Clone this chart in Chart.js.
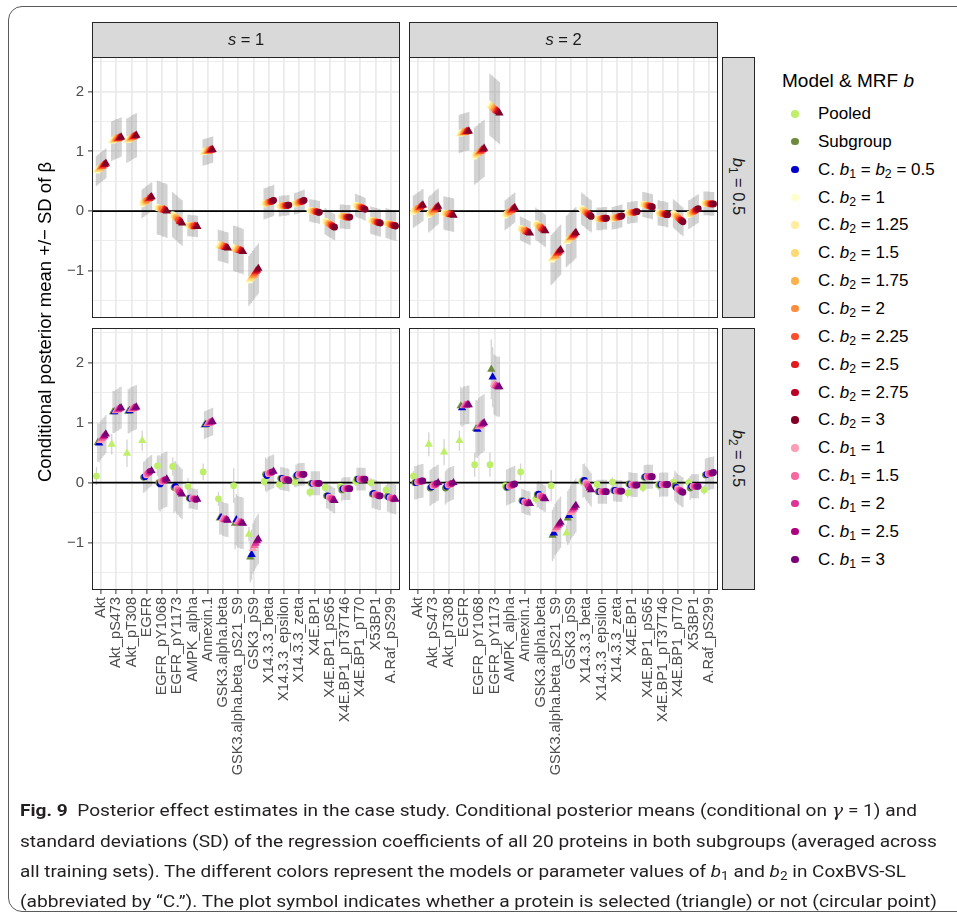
<!DOCTYPE html>
<html>
<head>
<meta charset="utf-8">
<script src="https://cdn.jsdelivr.net/npm/chart.js@4.4.1/dist/chart.umd.min.js"></script>
<style>
  body { margin:0; width:957px; height:918px; background:#fff; position:relative; overflow:hidden;
         font-family:'Liberation Sans', Arial, sans-serif; }
  canvas { position:absolute; }
  .frame { position:absolute; left:8px; top:6px; width:990px; height:906px; border:1px solid #5a5a5a;
           border-radius:14px; box-sizing:border-box; }
  .pborder { position:absolute; border:1.5px solid #262626; box-sizing:border-box; pointer-events:none; z-index:5; }
  .strip { position:absolute; background:#D9D9D9; border:1.5px solid #262626; box-sizing:border-box; z-index:5; }
  .striptext { position:absolute; color:#1a1a1a; font-size:16.5px; white-space:nowrap; text-align:center; z-index:6; }
  sub { font-size:0.72em; vertical-align:-0.28em; line-height:0; }
  .ytitle { position:absolute; width:500px; text-align:center; font-size:18.5px; color:#000; white-space:nowrap;
            transform:rotate(-90deg); transform-origin:center center; }
  .legtitle { position:absolute; left:782px; top:70px; font-size:19px; color:#000; white-space:nowrap; }
  .legitem { position:absolute; left:782px; height:20px; font-size:17px; color:#000; white-space:nowrap; }
  .legitem .dot { position:absolute; left:9px; top:6px; width:7.5px; height:7.5px; border-radius:50%; }
  .legitem .lab { position:absolute; left:36px; top:0; }
  .cap { position:absolute; left:20px; white-space:nowrap; font-family:Roboto,'Liberation Sans',sans-serif;
         font-size:17px; color:#231F20; transform-origin:left center; line-height:30px; }
  .cap b { font-weight:700; }
  .cap i.m { font-family:'DejaVu Serif','Liberation Serif',serif; }
</style>
</head>
<body>
<div class="frame"></div>

<canvas id="tl" width="380" height="293" style="left:36px;top:41px"></canvas>
<canvas id="tr" width="341" height="293" style="left:393px;top:41px"></canvas>
<canvas id="bl" width="380" height="494" style="left:36px;top:312px"></canvas>
<canvas id="br" width="341" height="494" style="left:393px;top:312px"></canvas>

<div class="pborder" style="left:92px;top:57px;width:308px;height:261px"></div>
<div class="pborder" style="left:409px;top:57px;width:309px;height:261px"></div>
<div class="pborder" style="left:92px;top:328px;width:308px;height:262px"></div>
<div class="pborder" style="left:409px;top:328px;width:309px;height:262px"></div>

<div class="strip" style="left:92px;top:22px;width:308px;height:36px"></div>
<div class="strip" style="left:409px;top:22px;width:309px;height:36px"></div>
<div class="striptext" style="left:92px;top:30px;width:308px"><i>s</i> = 1</div>
<div class="striptext" style="left:409px;top:30px;width:309px"><i>s</i> = 2</div>

<div class="strip" style="left:722px;top:57px;width:33px;height:261px"></div>
<div class="strip" style="left:722px;top:328px;width:33px;height:262px"></div>
<div class="striptext" style="left:688px;top:177px;width:100px;transform:rotate(90deg)"><i>b</i><sub>1</sub> = 0.5</div>
<div class="striptext" style="left:688px;top:449px;width:100px;transform:rotate(90deg)"><i>b</i><sub>2</sub> = 0.5</div>

<div class="ytitle" style="left:-205px;top:311px">Conditional posterior mean +/− SD of β</div>

<div class="legtitle">Model &amp; MRF <i>b</i></div>
<div id="legend"></div>

<div class="cap" id="cap1" style="top:795px"><b>Fig. 9</b>&nbsp; Posterior effect estimates in the case study. Conditional posterior means (conditional on <i class="m">γ</i> = 1) and</div>
<div class="cap" id="cap2" style="top:826px">standard deviations (SD) of the regression coefficients of all 20 proteins in both subgroups (averaged across</div>
<div class="cap" id="cap3" style="top:856px">all training sets). The different colors represent the models or parameter values of <i>b</i><sub>1</sub> and <i>b</i><sub>2</sub> in CoxBVS-SL</div>
<div class="cap" id="cap4" style="top:886px">(abbreviated by “C.”). The plot symbol indicates whether a protein is selected (triangle) or not (circular point)</div>

<script>
const proteins = ['Akt', 'Akt_pS473', 'Akt_pT308', 'EGFR', 'EGFR_pY1068', 'EGFR_pY1173', 'AMPK_alpha',
  'Annexin.1', 'GSK3.alpha.beta', 'GSK3.alpha.beta_pS21_S9', 'GSK3_pS9', 'X14.3.3_beta', 'X14.3.3_epsilon',
  'X14.3.3_zeta', 'X4E.BP1', 'X4E.BP1_pS65', 'X4E.BP1_pT37T46', 'X4E.BP1_pT70', 'X53BP1', 'A.Raf_pS299'];

const yTicks = [-1.5, -1, -0.5, 0, 0.5, 1, 1.5, 2, 2.5];

// --- row b1 = 0.5, subgroup s = 1 : CoxBVS-SL with b2 = 1 ... 3
const s1_b2_1   = [0.67,1.17,1.18,0.12,0.06,-0.06,-0.24,0.98,-0.57,-0.62,-1.17,0.12,0.08,0.12,0.01,-0.17,-0.09,0.10,-0.15,-0.20];
const s1_b2_125 = [0.69,1.18,1.19,0.14,0.05,-0.08,-0.24,0.99,-0.58,-0.63,-1.14,0.13,0.08,0.13,0.01,-0.18,-0.09,0.09,-0.16,-0.21];
const s1_b2_15  = [0.70,1.19,1.20,0.15,0.05,-0.10,-0.24,0.99,-0.58,-0.64,-1.12,0.13,0.09,0.13,0.00,-0.20,-0.09,0.08,-0.16,-0.21];
const s1_b2_175 = [0.72,1.20,1.21,0.17,0.04,-0.11,-0.25,1.00,-0.59,-0.64,-1.09,0.14,0.09,0.14,0.00,-0.21,-0.09,0.07,-0.17,-0.22];
const s1_b2_2   = [0.74,1.21,1.23,0.18,0.03,-0.13,-0.25,1.00,-0.59,-0.65,-1.07,0.15,0.09,0.15,0.00,-0.22,-0.10,0.07,-0.18,-0.23];
const s1_b2_225 = [0.75,1.21,1.24,0.20,0.02,-0.15,-0.25,1.01,-0.60,-0.66,-1.04,0.16,0.09,0.16,-0.01,-0.23,-0.10,0.06,-0.18,-0.23];
const s1_b2_25  = [0.77,1.22,1.25,0.21,0.02,-0.17,-0.25,1.02,-0.61,-0.66,-1.01,0.16,0.09,0.16,-0.01,-0.25,-0.10,0.05,-0.19,-0.24];
const s1_b2_275 = [0.78,1.23,1.26,0.23,0.01,-0.18,-0.26,1.02,-0.61,-0.67,-0.99,0.17,0.10,0.17,-0.02,-0.26,-0.10,0.04,-0.19,-0.24];
const s1_b2_3   = [0.80,1.24,1.27,0.24,0.00,-0.20,-0.26,1.03,-0.62,-0.68,-0.96,0.18,0.10,0.18,-0.02,-0.27,-0.10,0.03,-0.20,-0.25];
const sd_s1_top = [0.25,0.33,0.37,0.24,0.45,0.38,0.18,0.22,0.26,0.38,0.42,0.26,0.17,0.18,0.19,0.22,0.20,0.19,0.23,0.25];
// number of models (counted from b2 = 3 downwards) drawn as triangles
const sel_s1_top = [9,9,9,4,4,3,3,9,9,9,9,0,0,0,0,0,0,0,0,0];

// --- row b1 = 0.5, subgroup s = 2
const s2_b2_1   = [-0.01,-0.06,-0.03,1.29,0.92,1.78,-0.07,-0.29,-0.21,-0.82,-0.51,0.04,-0.13,-0.12,-0.03,0.11,-0.03,-0.04,-0.06,0.13];
const s2_b2_125 = [0.00,-0.04,-0.04,1.30,0.94,1.76,-0.05,-0.30,-0.23,-0.80,-0.49,0.02,-0.13,-0.12,-0.03,0.11,-0.03,-0.06,-0.05,0.13];
const s2_b2_15  = [0.02,-0.03,-0.04,1.30,0.95,1.75,-0.04,-0.31,-0.24,-0.78,-0.47,0.01,-0.13,-0.11,-0.03,0.10,-0.04,-0.08,-0.04,0.13];
const s2_b2_175 = [0.03,-0.01,-0.05,1.31,0.97,1.73,-0.02,-0.32,-0.26,-0.76,-0.45,-0.01,-0.13,-0.11,-0.02,0.10,-0.04,-0.09,-0.02,0.13];
const s2_b2_2   = [0.05,0.01,-0.05,1.32,0.99,1.71,-0.01,-0.33,-0.27,-0.74,-0.44,-0.03,-0.13,-0.10,-0.02,0.09,-0.04,-0.11,-0.01,0.13];
const s2_b2_225 = [0.06,0.03,-0.05,1.32,1.00,1.69,0.01,-0.34,-0.29,-0.71,-0.42,-0.04,-0.12,-0.10,-0.02,0.09,-0.05,-0.13,0.00,0.12];
const s2_b2_25  = [0.07,0.05,-0.06,1.33,1.02,1.68,0.03,-0.35,-0.30,-0.69,-0.40,-0.06,-0.12,-0.09,-0.02,0.08,-0.05,-0.15,0.02,0.12];
const s2_b2_275 = [0.09,0.06,-0.06,1.33,1.03,1.66,0.04,-0.36,-0.32,-0.67,-0.38,-0.07,-0.12,-0.09,-0.01,0.08,-0.06,-0.16,0.03,0.12];
const s2_b2_3   = [0.10,0.08,-0.07,1.34,1.05,1.64,0.06,-0.37,-0.33,-0.65,-0.36,-0.09,-0.12,-0.08,-0.01,0.07,-0.06,-0.18,0.04,0.12];
const sd_s2_top = [0.27,0.30,0.28,0.32,0.48,0.52,0.25,0.20,0.27,0.42,0.43,0.27,0.19,0.19,0.18,0.21,0.21,0.24,0.24,0.20];
const sel_s2_top = [4,5,4,9,6,9,4,4,4,9,9,0,0,0,0,0,0,0,0,0];

// --- row b2 = 0.5, subgroup s = 1 : Pooled, Subgroup, C. b1 = b2 = 0.5, C. b1 = 1 ... 3
const s1_pooled   = [0.11,0.64,0.49,0.70,0.28,0.27,-0.06,0.18,-0.27,-0.05,-0.86,0.02,-0.03,0.01,-0.16,-0.08,-0.06,0.02,0.00,-0.12];
const s1_subgroup = [0.67,1.18,1.19,0.09,0.00,-0.08,-0.26,0.96,-0.59,-0.68,-1.24,0.14,0.07,0.11,-0.01,-0.22,-0.12,0.06,-0.19,-0.23];
const s1_b1b2_05  = [0.66,1.18,1.20,0.10,-0.02,-0.06,-0.26,0.97,-0.58,-0.62,-1.20,0.12,0.07,0.13,-0.01,-0.22,-0.10,0.06,-0.18,-0.24];
const s1_b1_1     = [0.70,1.20,1.22,0.13,0.02,-0.10,-0.26,0.98,-0.60,-0.65,-1.10,0.15,0.06,0.13,-0.01,-0.24,-0.10,0.06,-0.20,-0.25];
const s1_b1_15    = [0.73,1.21,1.23,0.15,0.03,-0.12,-0.27,0.99,-0.61,-0.66,-1.05,0.16,0.06,0.14,-0.01,-0.26,-0.10,0.06,-0.20,-0.26];
const s1_b1_2     = [0.76,1.22,1.24,0.17,0.04,-0.15,-0.27,1.00,-0.62,-0.67,-1.01,0.17,0.05,0.14,-0.01,-0.27,-0.10,0.06,-0.21,-0.27];
const s1_b1_25    = [0.78,1.24,1.25,0.19,0.05,-0.17,-0.28,1.01,-0.62,-0.67,-0.97,0.18,0.05,0.14,-0.01,-0.29,-0.10,0.06,-0.22,-0.27];
const s1_b1_3     = [0.81,1.25,1.26,0.20,0.06,-0.19,-0.28,1.02,-0.63,-0.68,-0.94,0.19,0.04,0.14,-0.01,-0.30,-0.10,0.06,-0.22,-0.28];
const sd_s1_pooled = [0.15,0.17,0.23,0.17,0.17,0.15,0.14,0.14,0.12,0.29,0.12,0.08,0.08,0.08,0.08,0.08,0.08,0.08,0.08,0.08];
const sd_s1_bottom = [0.32,0.35,0.37,0.26,0.46,0.42,0.17,0.23,0.28,0.43,0.42,0.28,0.19,0.19,0.20,0.21,0.19,0.19,0.24,0.25];
const selPooled_s1   = [0,1,1,1,0,0,0,0,0,0,1,0,0,0,0,0,0,0,0,0];
const selSubgroup_s1 = [1,1,1,0,0,0,0,1,1,1,1,0,0,0,0,0,0,0,0,0];
// number of the six CoxBVS-SL models (counted from b1 = 3 downwards) drawn as triangles
const selCox_s1 = [6,6,6,1,1,2,1,6,6,6,6,1,0,0,0,2,0,0,0,2];

// --- row b2 = 0.5, subgroup s = 2
const s2_pooled   = [0.11,0.64,0.51,0.70,0.30,0.30,-0.05,0.18,-0.27,-0.05,-0.84,0.02,-0.03,0.01,-0.17,-0.08,-0.04,0.01,0.00,-0.12];
const s2_subgroup = [0.00,-0.09,-0.09,1.28,0.90,1.89,-0.08,-0.30,-0.20,-0.88,-0.59,0.03,-0.15,-0.13,-0.02,0.09,-0.04,-0.05,-0.09,0.13];
const s2_b1b2_05  = [0.00,-0.07,-0.06,1.25,0.89,1.76,-0.07,-0.31,-0.19,-0.84,-0.55,0.04,-0.15,-0.13,-0.03,0.10,-0.03,-0.08,-0.06,0.14];
const s2_b1_1     = [0.01,-0.05,-0.04,1.28,0.93,1.64,-0.06,-0.32,-0.22,-0.78,-0.50,0.00,-0.15,-0.14,-0.03,0.10,-0.03,-0.10,-0.06,0.15];
const s2_b1_15    = [0.02,-0.04,-0.03,1.29,0.95,1.62,-0.05,-0.33,-0.23,-0.75,-0.47,-0.03,-0.15,-0.14,-0.04,0.10,-0.03,-0.12,-0.06,0.15];
const s2_b1_2     = [0.02,-0.03,-0.02,1.29,0.97,1.61,-0.04,-0.34,-0.24,-0.72,-0.44,-0.06,-0.15,-0.14,-0.04,0.10,-0.03,-0.13,-0.06,0.16];
const s2_b1_25    = [0.03,-0.01,-0.01,1.30,0.98,1.60,-0.03,-0.34,-0.26,-0.69,-0.41,-0.09,-0.15,-0.14,-0.04,0.10,-0.03,-0.15,-0.06,0.16];
const s2_b1_3     = [0.03,0.00,0.00,1.30,1.00,1.60,-0.02,-0.35,-0.27,-0.66,-0.38,-0.12,-0.15,-0.14,-0.04,0.10,-0.03,-0.16,-0.06,0.17];
const sd_s2_pooled = [0.08,0.20,0.22,0.17,0.20,0.20,0.08,0.14,0.08,0.26,0.14,0.08,0.08,0.08,0.08,0.08,0.08,0.08,0.08,0.08];
const sd_s2_bottom = [0.28,0.30,0.28,0.32,0.48,0.50,0.30,0.20,0.22,0.43,0.45,0.28,0.20,0.18,0.20,0.20,0.20,0.25,0.20,0.27];
const selPooled_s2   = [0,1,1,1,0,0,0,0,0,0,1,0,0,0,0,0,0,0,0,0];
const selSubgroup_s2 = [0,0,0,1,1,1,0,0,0,1,1,0,0,0,0,0,0,0,0,0];
const selCox_s2 = [0,1,1,6,6,6,0,2,2,6,6,2,0,0,0,0,0,0,0,0];

const topColors = ['#FFFFCC','#FFEDA0','#FED976','#FEB24C','#FD8D3C','#FC4E2A','#E31A1C','#BD0026','#800026'];
const bottomColors = ['#BFEF6A','#6E8B3D','#0000CD','#FA9FB5','#F768A1','#DD3497','#AE017E','#7A0177'];

const DODGE = 0.7;

// selection masks
function topSel(counts) {
  return topColors.map((_, k) => counts.map(c => k >= 9 - c));
}
function bottomSel(pooled, subgroup, cox) {
  const out = [pooled.map(Boolean), subgroup.map(Boolean)];
  for (let j = 0; j < 6; j++) out.push(cox.map(c => j >= 6 - c));
  return out;
}

function panel(id, series, sds, sel, colors, showX, showY) {
  const n = series.length;
  const offs = series.map((_, k) => -DODGE / 2 + DODGE * (k + 0.5) / n);
  const datasets = [];
  series.forEach((vals, k) => {
    const seg = [];
    vals.forEach((v, i) => {
      const x = i + offs[k];
      seg.push({x: x, y: v - sds[k][i]}, {x: x, y: v + sds[k][i]}, {x: x, y: null});
    });
    datasets.push({data: seg, showLine: true, spanGaps: false, borderColor: 'rgba(150,150,150,0.42)',
      borderWidth: 1.3, pointRadius: 0, order: 100});
  });
  datasets.push({data: [{x: -0.6, y: 0}, {x: 19.6, y: 0}], showLine: true, borderColor: '#000',
    borderWidth: 1.8, pointRadius: 0, order: 50});
  series.forEach((vals, k) => {
    datasets.push({
      data: vals.map((v, i) => ({x: i + offs[k], y: v})),
      showLine: false,
      pointStyle: sel[k].map(t => t ? 'triangle' : 'circle'),
      pointRadius: sel[k].map(t => t ? 4.8 : 3.4),
      pointBackgroundColor: colors[k],
      pointBorderWidth: 0,
      order: n - k
    });
  });

  new Chart(document.getElementById(id), {
    type: 'scatter',
    data: {datasets: datasets},
    options: {
      responsive: false,
      animation: false,
      devicePixelRatio: 1,
      events: [],
      layout: {padding: 16},
      plugins: {legend: {display: false}, tooltip: {enabled: false}},
      scales: {
        x: {
          type: 'linear', min: -0.6, max: 19.6,
          afterBuildTicks: s => { s.ticks = proteins.map((p, i) => ({value: i})); },
          afterFit: s => { s.height = showX ? 200 : 0; },
          border: {display: false},
          grid: {color: '#EBEBEB', lineWidth: 1.8, drawTicks: showX, tickLength: 4, tickColor: '#333', tickWidth: 1},
          ticks: {display: showX, autoSkip: false, minRotation: 90, maxRotation: 90, padding: 3,
                  color: '#4D4D4D', font: {family: 'Liberation Sans, Arial', size: 14.5},
                  callback: v => proteins[v]}
        },
        y: {
          type: 'linear', min: -1.79, max: 2.58,
          afterBuildTicks: s => { s.ticks = yTicks.map(v => ({value: v})); },
          afterFit: s => { s.width = showY ? 40 : 0; },
          border: {display: false},
          grid: {
            color: '#EBEBEB',
            lineWidth: c => Number.isInteger(c.tick.value) ? 1.8 : 0.9,
            drawTicks: showY, tickLength: 4, tickWidth: 1,
            tickColor: c => Number.isInteger(c.tick.value) ? '#333' : 'rgba(0,0,0,0)'
          },
          ticks: {display: showY, padding: 4, color: '#4D4D4D',
                  font: {family: 'Liberation Sans, Arial', size: 15},
                  callback: v => Number.isInteger(v) ? (v < 0 ? '\u2212' + Math.abs(v) : String(v)) : ''}
        }
      }
    }
  });
}

const topSeries1 = [s1_b2_1, s1_b2_125, s1_b2_15, s1_b2_175, s1_b2_2, s1_b2_225, s1_b2_25, s1_b2_275, s1_b2_3];
const topSeries2 = [s2_b2_1, s2_b2_125, s2_b2_15, s2_b2_175, s2_b2_2, s2_b2_225, s2_b2_25, s2_b2_275, s2_b2_3];
const botSeries1 = [s1_pooled, s1_subgroup, s1_b1b2_05, s1_b1_1, s1_b1_15, s1_b1_2, s1_b1_25, s1_b1_3];
const botSeries2 = [s2_pooled, s2_subgroup, s2_b1b2_05, s2_b1_1, s2_b1_15, s2_b1_2, s2_b1_25, s2_b1_3];

panel('tl', topSeries1, topSeries1.map(() => sd_s1_top), topSel(sel_s1_top), topColors, false, true);
panel('tr', topSeries2, topSeries2.map(() => sd_s2_top), topSel(sel_s2_top), topColors, false, false);
panel('bl', botSeries1, botSeries1.map((_, k) => k === 0 ? sd_s1_pooled : sd_s1_bottom),
      bottomSel(selPooled_s1, selSubgroup_s1, selCox_s1), bottomColors, true, true);
panel('br', botSeries2, botSeries2.map((_, k) => k === 0 ? sd_s2_pooled : sd_s2_bottom),
      bottomSel(selPooled_s2, selSubgroup_s2, selCox_s2), bottomColors, true, false);

// legend
const b = (i) => '<i>b</i><sub>' + i + '</sub>';
const legendLabels = ['Pooled', 'Subgroup', 'C. ' + b(1) + ' = ' + b(2) + ' = 0.5',
  'C. ' + b(2) + ' = 1', 'C. ' + b(2) + ' = 1.25', 'C. ' + b(2) + ' = 1.5', 'C. ' + b(2) + ' = 1.75',
  'C. ' + b(2) + ' = 2', 'C. ' + b(2) + ' = 2.25', 'C. ' + b(2) + ' = 2.5', 'C. ' + b(2) + ' = 2.75',
  'C. ' + b(2) + ' = 3', 'C. ' + b(1) + ' = 1', 'C. ' + b(1) + ' = 1.5', 'C. ' + b(1) + ' = 2',
  'C. ' + b(1) + ' = 2.5', 'C. ' + b(1) + ' = 3'];
const legendColors = [bottomColors[0], bottomColors[1], bottomColors[2]].concat(topColors, bottomColors.slice(3));
const leg = document.getElementById('legend');
legendLabels.forEach((lab, i) => {
  const d = document.createElement('div');
  d.className = 'legitem';
  d.style.top = (104 + i * 27.85) + 'px';
  d.innerHTML = '<span class="dot" style="background:' + legendColors[i] + '"></span><span class="lab">' + lab + '</span>';
  leg.appendChild(d);
});

// fit caption lines to their widths
const capWidths = {cap1: 897, cap2: 917, cap3: 886, cap4: 917};
Object.keys(capWidths).forEach(id => {
  const el = document.getElementById(id);
  const w = el.getBoundingClientRect().width;
  el.style.transform = 'scaleX(' + (capWidths[id] / w) + ')';
});
</script>
</body>
</html>
